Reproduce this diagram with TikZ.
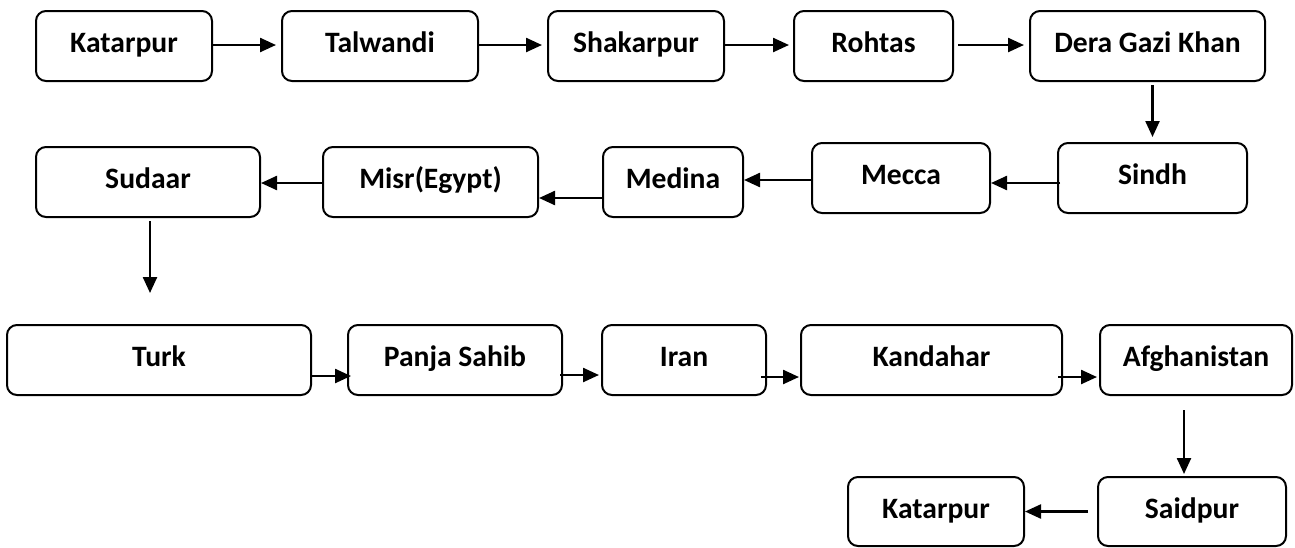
\documentclass[tikz,border=0pt]{standalone}
\usepackage{fontspec}
\setmainfont{Carlito}
\usetikzlibrary{arrows.meta,calc}
\tikzset{
  place/.style={draw=black, line width=1pt, rounded corners=5pt, minimum height=35pt,
    inner sep=0pt, font=\fontsize{14.8}{17}\selectfont\bfseries,
    text height=0.75em, text depth=0.1em},
  link/.style={line width=1.2pt, -{Triangle[length=8pt,width=7pt]}}
}
\begin{document}
\begin{tikzpicture}[x=0.5pt,y=-0.5pt]
\useasboundingbox (0,0) rectangle (1295,547);
% row 1
\node[place, minimum width=88pt]    (k1) at (124,46)    {Katarpur};
\node[place, minimum width=98pt]    (ta) at (380,46)    {Talwandi};
\node[place, minimum width=88pt]    (sh) at (636,46)    {Shakarpur};
\node[place, minimum width=79.5pt]  (ro) at (873.5,46)  {Rohtas};
\node[place, minimum width=117.5pt] (dg) at (1147.5,46) {Dera Gazi Khan};
% row 2
\node[place, minimum width=94.5pt]  (si) at (1152.5,178) {Sindh};
\node[place, minimum width=89pt]    (me) at (901,178)    {Mecca};
\node[place, minimum width=70pt]    (md) at (673,182)    {Medina};
\node[place, minimum width=107.5pt] (mi) at (430.5,182)  {Misr(Egypt)};
\node[place, minimum width=112pt]   (su) at (148,182)    {Sudaar};
% row 3
\node[place, minimum width=152pt]   (tu) at (159,360)    {Turk};
\node[place, minimum width=107pt]   (pa) at (455,360)    {Panja Sahib};
\node[place, minimum width=82pt]    (ir) at (684,360)    {Iran};
\node[place, minimum width=130.5pt] (ka) at (931.5,360)  {Kandahar};
\node[place, minimum width=96pt]    (af) at (1196,360)   {Afghanistan};
% row 4
\node[place, minimum width=94pt, minimum height=34.5pt] (sa) at (1192,511.5) {Saidpur};
\node[place, minimum width=88pt, minimum height=34.5pt] (k2) at (936,511.5)  {Katarpur};
% connectors row 1
\draw[link, shorten >=2.5pt] ([yshift=0.5pt]k1.east) -- ([yshift=0.5pt]ta.west);
\draw[link, shorten >=2.5pt] ([yshift=0.5pt]ta.east) -- ([yshift=0.5pt]sh.west);
\draw[link, shorten >=2pt]   ([yshift=0.5pt]sh.east) -- ([yshift=0.5pt]ro.west);
\draw[link, shorten <=2pt, shorten >=2.5pt] ([yshift=0.5pt]ro.east) -- ([yshift=0.5pt]dg.west);
\draw[link, shorten <=1.5pt, shorten >=2.5pt] (si.north |- dg.south) -- (si.north);
% row 2
\draw[link] ([xshift=1.5pt,yshift=-2.5pt]si.west) -- ([yshift=-2.5pt]me.east);
\draw[link] ([xshift=1pt,yshift=-1pt]me.west) -- ([yshift=1pt]md.east);
\draw[link] ([yshift=-8pt]md.west) -- ([yshift=-8pt]mi.east);
\draw[link] ([yshift=-0.5pt]mi.west) -- ([yshift=-0.5pt]su.east);
\draw[link, shorten <=1.5pt, shorten >=15.5pt] ([xshift=1pt]su.south) -- ([xshift=1pt]su.south |- tu.north);
% row 3
\draw[link, shorten >=-2pt] ([yshift=-8pt]tu.east) -- ([yshift=-8pt]pa.west);
\draw[link, shorten <=-1.5pt, shorten >=1pt] ([yshift=-7.5pt]pa.east) -- ([yshift=-7.5pt]ir.west);
\draw[link, shorten <=-3pt, shorten >=0.5pt] ([yshift=-8.5pt]ir.east) -- ([yshift=-8.5pt]ka.west);
\draw[link, shorten <=-2.5pt, shorten >=1pt] ([yshift=-8.5pt]ka.east) -- ([yshift=-8.5pt]af.west);
\draw[link, shorten <=7pt, shorten >=1pt] ([xshift=-6pt]af.south) -- ([xshift=-6pt]af.south |- sa.north);
% row 4
\draw[link, shorten <=4.5pt] (sa.west) -- (k2.east);
\end{tikzpicture}
\end{document}
